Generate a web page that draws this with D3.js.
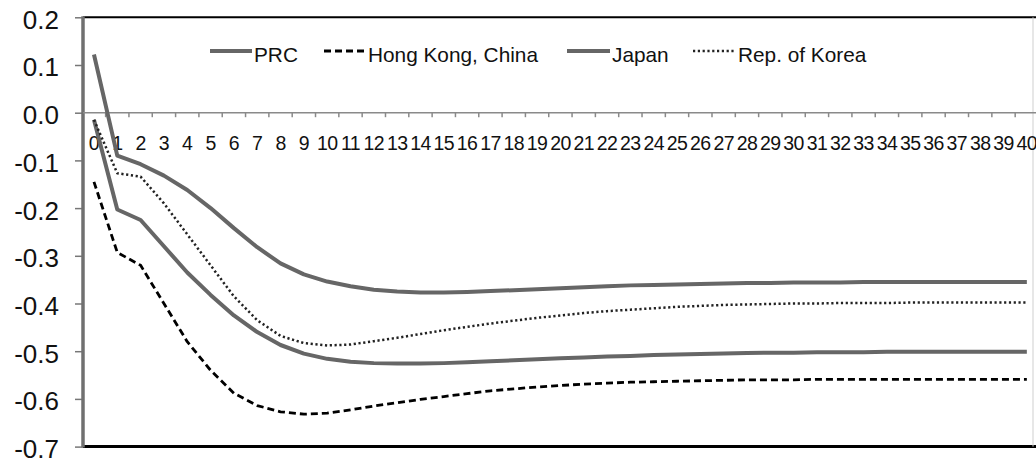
<!DOCTYPE html>
<html>
<head>
<meta charset="utf-8">
<script src="https://cdn.jsdelivr.net/npm/d3@7"></script>
<style>
  html, body { margin: 0; padding: 0; background: #fff; }
  svg { display: block; font-family: "Liberation Sans", Arial, sans-serif; }
</style>
</head>
<body>
<svg id="chart" width="1036" height="462"></svg>
<script>
// ---- data ----
const periods = d3.range(0, 41).map(String);
const prc = [0.122, -0.09, -0.108, -0.132, -0.162, -0.2, -0.242, -0.282, -0.316, -0.339, -0.354,
  -0.364, -0.371, -0.375, -0.377, -0.377, -0.376, -0.374, -0.372, -0.370, -0.368,
  -0.366, -0.364, -0.362, -0.361, -0.360, -0.359, -0.358, -0.357, -0.357, -0.356,
  -0.356, -0.356, -0.355, -0.355, -0.355, -0.355, -0.355, -0.355, -0.355, -0.355];
const hongKong = [-0.145, -0.293, -0.32, -0.40, -0.48, -0.54, -0.588, -0.614, -0.627, -0.632, -0.630,
  -0.623, -0.615, -0.608, -0.601, -0.595, -0.589, -0.583, -0.579, -0.575, -0.572,
  -0.569, -0.567, -0.565, -0.564, -0.563, -0.562, -0.561, -0.560, -0.560, -0.560,
  -0.559, -0.559, -0.559, -0.559, -0.559, -0.559, -0.559, -0.559, -0.559, -0.559];
const japan = [-0.015, -0.203, -0.225, -0.28, -0.335, -0.382, -0.425, -0.46, -0.487, -0.505, -0.516,
  -0.522, -0.525, -0.526, -0.526, -0.525, -0.523, -0.521, -0.519, -0.517, -0.515,
  -0.513, -0.511, -0.510, -0.508, -0.507, -0.506, -0.505, -0.504, -0.503, -0.503,
  -0.502, -0.502, -0.502, -0.501, -0.501, -0.501, -0.501, -0.501, -0.501, -0.501];
const korea = [-0.015, -0.127, -0.134, -0.19, -0.255, -0.32, -0.385, -0.435, -0.468, -0.483, -0.488,
  -0.486, -0.479, -0.472, -0.464, -0.456, -0.449, -0.442, -0.436, -0.430, -0.425,
  -0.420, -0.416, -0.413, -0.410, -0.407, -0.405, -0.403, -0.402, -0.401, -0.400,
  -0.400, -0.399, -0.399, -0.399, -0.398, -0.398, -0.398, -0.398, -0.398, -0.398];
const seriesNames = ["PRC", "Hong Kong, China", "Japan", "Rep. of Korea"];
const yTicks = [0.2, 0.1, 0.0, -0.1, -0.2, -0.3, -0.4, -0.5, -0.6, -0.7];
const yTickLabels = ["0.2", "0.1", "0.0", "-0.1", "-0.2", "-0.3", "-0.4", "-0.5", "-0.6", "-0.7"];

(function () {
// ---- styles ----
const styles = [
  { color: "#666666", width: 4, dash: null },
  { color: "#000000", width: 2.8, dash: "7,4" },
  { color: "#666666", width: 4, dash: null },
  { color: "#222222", width: 2.5, dash: "2.2,2.6" }
];
const seriesData = [prc, hongKong, japan, korea];

const svg = d3.select("#chart");
const pLeft = 83, pRight = 1038.5, pTop = 17.3, pBottom = 446.6;

const x = d3.scaleBand().domain(periods).range([pLeft - 0.7, pRight]).padding(0);
const cx = d => x(d) + x.bandwidth() / 2;
const y = d3.scaleLinear().domain([-0.7, 0.2]).range([pBottom, pTop]);

// plot borders
svg.append("line").attr("x1", pLeft).attr("x2", 1036).attr("y1", pTop).attr("y2", pTop)
  .attr("stroke", "#000").attr("stroke-width", 2);
svg.append("line").attr("x1", pLeft).attr("x2", 1036).attr("y1", pBottom).attr("y2", pBottom)
  .attr("stroke", "#000").attr("stroke-width", 3);
svg.append("line").attr("x1", 1033).attr("x2", 1033).attr("y1", pTop).attr("y2", pBottom)
  .attr("stroke", "#cfcfcf").attr("stroke-width", 1);

// y axis
const yAxis = svg.append("g").attr("transform", `translate(${pLeft},0)`)
  .call(d3.axisLeft(y).tickValues(yTicks).tickSize(8).tickPadding(16)
    .tickFormat((d, i) => yTickLabels[i]));
yAxis.select(".domain").remove();
yAxis.selectAll(".tick line").attr("stroke", "#777").attr("stroke-width", 1.5);
yAxis.selectAll(".tick text").attr("font-size", 26).attr("fill", "#111")
  .attr("font-family", "Liberation Sans, Arial, sans-serif").attr("dy", "0.42em");
svg.append("line").attr("x1", pLeft).attr("x2", pLeft).attr("y1", pTop - 1).attr("y2", pBottom + 1)
  .attr("stroke", "#707070").attr("stroke-width", 3.5);

// x axis along zero line
const y0 = y(0);
svg.append("line").attr("x1", pLeft).attr("x2", 1036).attr("y1", y0).attr("y2", y0)
  .attr("stroke", "#8a8a8a").attr("stroke-width", 1.6);
svg.append("g").selectAll("line").data(periods.slice(1)).join("line")
  .attr("x1", d => x(d)).attr("x2", d => x(d))
  .attr("y1", y0).attr("y2", y0 + 4.5)
  .attr("stroke", "#8a8a8a").attr("stroke-width", 1.5);
svg.append("g").selectAll("text").data(periods).join("text")
  .attr("x", d => cx(d)).attr("y", y0 + 37)
  .attr("text-anchor", "middle").attr("font-size", 19.5).attr("fill", "#111")
  .attr("letter-spacing", "-0.6")
  .text(d => d);

// lines
const line = d3.line().x((d, i) => cx(periods[i])).y(d => y(d)).curve(d3.curveLinear);
seriesData.forEach((vals, k) => {
  const p = svg.append("path").datum(vals).attr("d", line)
    .attr("fill", "none").attr("stroke", styles[k].color)
    .attr("stroke-width", styles[k].width).attr("stroke-linejoin", "round");
  if (styles[k].dash) p.attr("stroke-dasharray", styles[k].dash);
});

// legend
const legendPos = [
  { x1: 210, x2: 252, tx: 254 },
  { x1: 324, x2: 366, tx: 368 },
  { x1: 567, x2: 610, tx: 612 },
  { x1: 693, x2: 734, tx: 738 }
];
const lg = svg.append("g");
seriesNames.forEach((name, k) => {
  const p = legendPos[k];
  const l = lg.append("line").attr("x1", p.x1).attr("x2", p.x2).attr("y1", 51).attr("y2", 51)
    .attr("stroke", styles[k].color).attr("stroke-width", styles[k].width);
  if (styles[k].dash) l.attr("stroke-dasharray", styles[k].dash);
  lg.append("text").attr("x", p.tx).attr("y", 61.5).attr("font-size", 20.8)
    .attr("fill", "#111").text(name);
});
})();
</script>
</body>
</html>
